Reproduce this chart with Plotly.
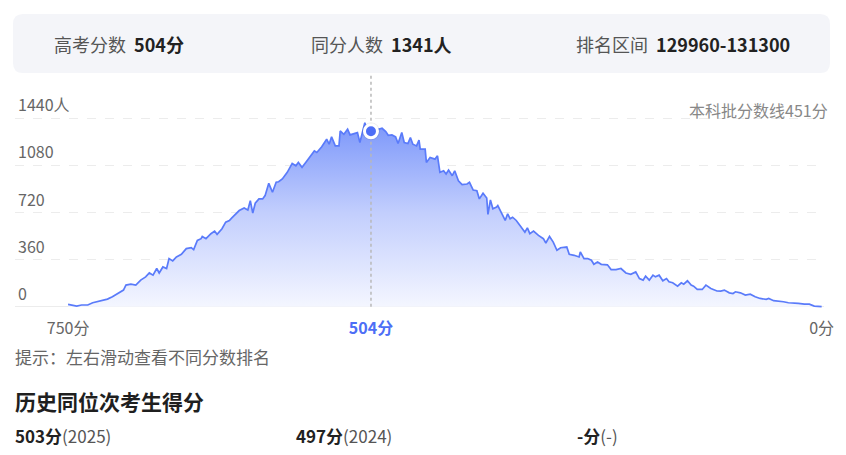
import plotly.graph_objects as go

# ---------------- data ----------------
scores = [750, 746, 743, 739, 734, 730, 726, 722, 718, 714, 710, 705, 703, 699, 695, 691, 687, 684, 681, 678,
          676, 673, 670, 668,
          665, 662, 658, 654, 650, 648, 645, 642, 641, 638, 634, 631, 629, 625, 622, 619, 617, 614, 611, 607,
          604, 602, 600, 598, 595, 592, 590, 587, 584, 581, 579,
          576, 572, 568, 565, 563, 560, 557, 554, 550, 548, 544, 540, 538, 536, 533, 530, 529, 526, 523, 521,
          518, 515, 513, 511, 509, 507, 504, 501, 498, 495, 492, 490,
          487, 484, 482, 479, 477, 474, 472, 470, 467, 465, 464, 460, 459, 456, 452, 450, 448, 445, 443, 441,
          438, 436, 433, 430, 426, 424, 421, 418, 416, 413, 410, 409, 407, 405, 402, 401,
          398, 395, 393, 391, 389, 386, 383, 379, 377, 375, 372, 368, 364, 362, 359, 356, 353, 350, 345, 343,
          339, 335, 334, 331, 328, 325, 323, 320, 317, 314, 312,
          309, 305, 301, 297, 293, 289, 286, 283, 281, 278, 275, 273, 270, 267, 264, 262, 259, 255, 252, 250,
          247, 244, 242, 239, 235, 232, 228, 225, 223,
          220, 217, 213, 210, 208, 204, 200, 196, 192, 188, 183, 181, 177, 173, 169, 165, 161, 157, 152, 148,
          144, 140, 138]
counts = [18, 13, 5, 13, 13, 30, 40, 46, 58, 76, 101, 127, 165, 172, 165, 203, 228, 258, 241, 292,
          258, 304, 292, 368,
          350, 380, 400, 444, 451, 436, 507, 520, 537, 520, 558, 578, 553, 596, 646, 659, 679, 710, 735, 755,
          740, 811, 715, 791, 824, 824, 849, 943, 875, 951, 955,
          976, 1027, 1095, 1077, 1103, 1065, 1103, 1141, 1191, 1179, 1222, 1280, 1242, 1298, 1229, 1229, 1343, 1318, 1356, 1313,
          1323, 1331, 1255, 1343, 1407, 1343, 1341, 1374, 1356, 1364, 1338, 1310,
          1313, 1298, 1247, 1331, 1255, 1247, 1293, 1242, 1229, 1273, 1204, 1204, 1103, 1141, 1128, 1153, 1027, 1039, 1014, 1044,
          1001, 1039, 963, 933, 938, 951, 892, 887, 824, 867, 831, 705, 816, 748, 761, 773,
          710, 659, 710, 672, 684, 659, 621, 570, 603, 558, 578, 545, 520, 487, 537, 494, 431, 451, 456, 400,
          393, 380, 418, 368, 368, 355, 324, 342, 324, 324, 320,
          284, 284, 292, 258, 248, 266, 215, 203, 233, 203, 241, 228, 241, 198, 215, 190, 183, 157, 183, 172,
          198, 165, 157, 132, 132, 165, 139, 127, 120,
          119, 127, 106, 101, 114, 106, 89, 96, 76, 63, 56, 63, 46, 43, 38, 30, 25, 25, 20, 20,
          5, 3, 0]

cur_score = 504
cur_count = 1341
rank_range = "129960-131300"
line_label = "本科批分数线451分"

y_ticks = [0, 360, 720, 1080, 1440]
y_tick_text = ["0", "360", "720", "1080", "1440人"]
x_tick_vals = [750, 504, 138]
x_tick_text = ["750分", "504分", "0分"]

history_scores = ["503", "497", "-"]
history_years = ["2025", "2024", "-"]

# ---------------- layout geometry ----------------
W, H = 846, 455
ML, MR, MT, MB = 15, 19, 75, 145
PW = W - ML - MR
PH = H - MT - MB
PB = H - MB

def px(x):
    return (x - ML) / PW

def py(y):
    return (PB - y) / PH

FONT = "Noto Sans CJK SC"
BLUE = "#4d6ef6"
Y_TOP = 1771

fig = go.Figure()

# area
fig.add_trace(go.Scatter(
    x=scores, y=counts, mode="lines",
    line=dict(color="#5a7bfa", width=1.7),
    fill="tozeroy",
    fillgradient=dict(type="vertical",
                      colorscale=[[0, "rgb(244,246,255)"], [0.5, "rgb(194,206,253)"], [1, "rgb(120,148,250)"]],
                      start=0, stop=1440),
    hoverinfo="skip", showlegend=False,
))

# vertical dotted guide line at current score (drawn above the area, below the marker)
fig.add_trace(go.Scatter(
    x=[cur_score, cur_score], y=[0, Y_TOP], mode="lines",
    line=dict(color="#b8b8b8", width=1.5, dash="dot"),
    hoverinfo="skip", showlegend=False,
))

# current point marker (halo + dot)
fig.add_trace(go.Scatter(
    x=[cur_score], y=[cur_count], mode="markers",
    marker=dict(size=18, color="rgba(0,0,0,0.07)"),
    hoverinfo="skip", showlegend=False,
))
fig.add_trace(go.Scatter(
    x=[cur_score], y=[cur_count], mode="markers",
    marker=dict(size=13, color=BLUE, line=dict(color="white", width=3)),
    hoverinfo="skip", showlegend=False,
))

shapes = []
# header box (rounded rectangle)
x0, x1, y0, y1, r = 13, 833, 14, 73, 10
path = (f"M {px(x0 + r)} {py(y0)} L {px(x1 - r)} {py(y0)} Q {px(x1)} {py(y0)} {px(x1)} {py(y0 + r)} "
        f"L {px(x1)} {py(y1 - r)} Q {px(x1)} {py(y1)} {px(x1 - r)} {py(y1)} "
        f"L {px(x0 + r)} {py(y1)} Q {px(x0)} {py(y1)} {px(x0)} {py(y1 - r)} "
        f"L {px(x0)} {py(y0 + r)} Q {px(x0)} {py(y0)} {px(x0 + r)} {py(y0)} Z")
shapes.append(dict(type="path", xref="paper", yref="paper", path=path,
                   fillcolor="#f4f5f9", line=dict(width=0), layer="below"))

annotations = []
def ann(text, x, y, size, color="#555", xanchor="left", yanchor="middle", **kw):
    annotations.append(dict(text=text, x=px(x), y=py(y), xref="paper", yref="paper",
                            xanchor=xanchor, yanchor=yanchor, showarrow=False,
                            font=dict(family=FONT, size=size, color=color), **kw))

SP = "&nbsp;&nbsp;"
# header
ann(f"高考分数{SP}<b><span style='color:#222'>{cur_score}分</span></b>", 52, 44, 18)
ann(f"同分人数{SP}<b><span style='color:#222'>{cur_count}人</span></b>", 310, 44, 18)
ann(f"排名区间{SP}<b><span style='color:#222'>{rank_range}</span></b>", 576, 44, 18)

# y tick labels (above grid lines)
for v, t in zip(y_ticks, y_tick_text):
    annotations.append(dict(text=t, x=px(16), y=v, xref="paper", yref="y",
                            xanchor="left", yanchor="bottom", showarrow=False,
                            font=dict(family=FONT, size=16, color="#666")))

ann(line_label, 833, 110, 16, color="#888", xanchor="right")

# bottom texts
ann("提示：左右滑动查看不同分数排名", 13, 356, 17, color="#666")
ann("<b>历史同位次考生得分</b>", 13, 401, 21, color="#1f1f1f")
for xpos, s, yr in zip([13, 295, 577], history_scores, history_years):
    ann(f"<b><span style='color:#222'>{s}分</span></b><span style='color:#555'>({yr})</span>", xpos, 435, 17)

tick_text = [f"<b><span style='color:{BLUE}'>{t}</span></b>" if v == cur_score else t
             for v, t in zip(x_tick_vals, x_tick_text)]

fig.update_layout(
    width=W, height=H,
    margin=dict(l=ML, r=MR, t=MT, b=MB),
    paper_bgcolor="white", plot_bgcolor="white",
    font=dict(family=FONT),
    shapes=shapes, annotations=annotations,
    xaxis=dict(range=[793.1, 136.1], tickvals=x_tick_vals, ticktext=tick_text,
               showgrid=False, zeroline=False, showline=False, ticks="",
               ticklabelstandoff=7,
               tickfont=dict(family=FONT, size=16, color="#666"), fixedrange=True),
    yaxis=dict(range=[-25.2, Y_TOP], tickvals=y_ticks, showticklabels=False,
               showgrid=True, gridcolor="#ececec", griddash="dash", gridwidth=1,
               zeroline=True, zerolinecolor="#ececec", zerolinewidth=1,
               showline=False, ticks="", fixedrange=True),
    showlegend=False,
)

fig.write_html("out.html")
